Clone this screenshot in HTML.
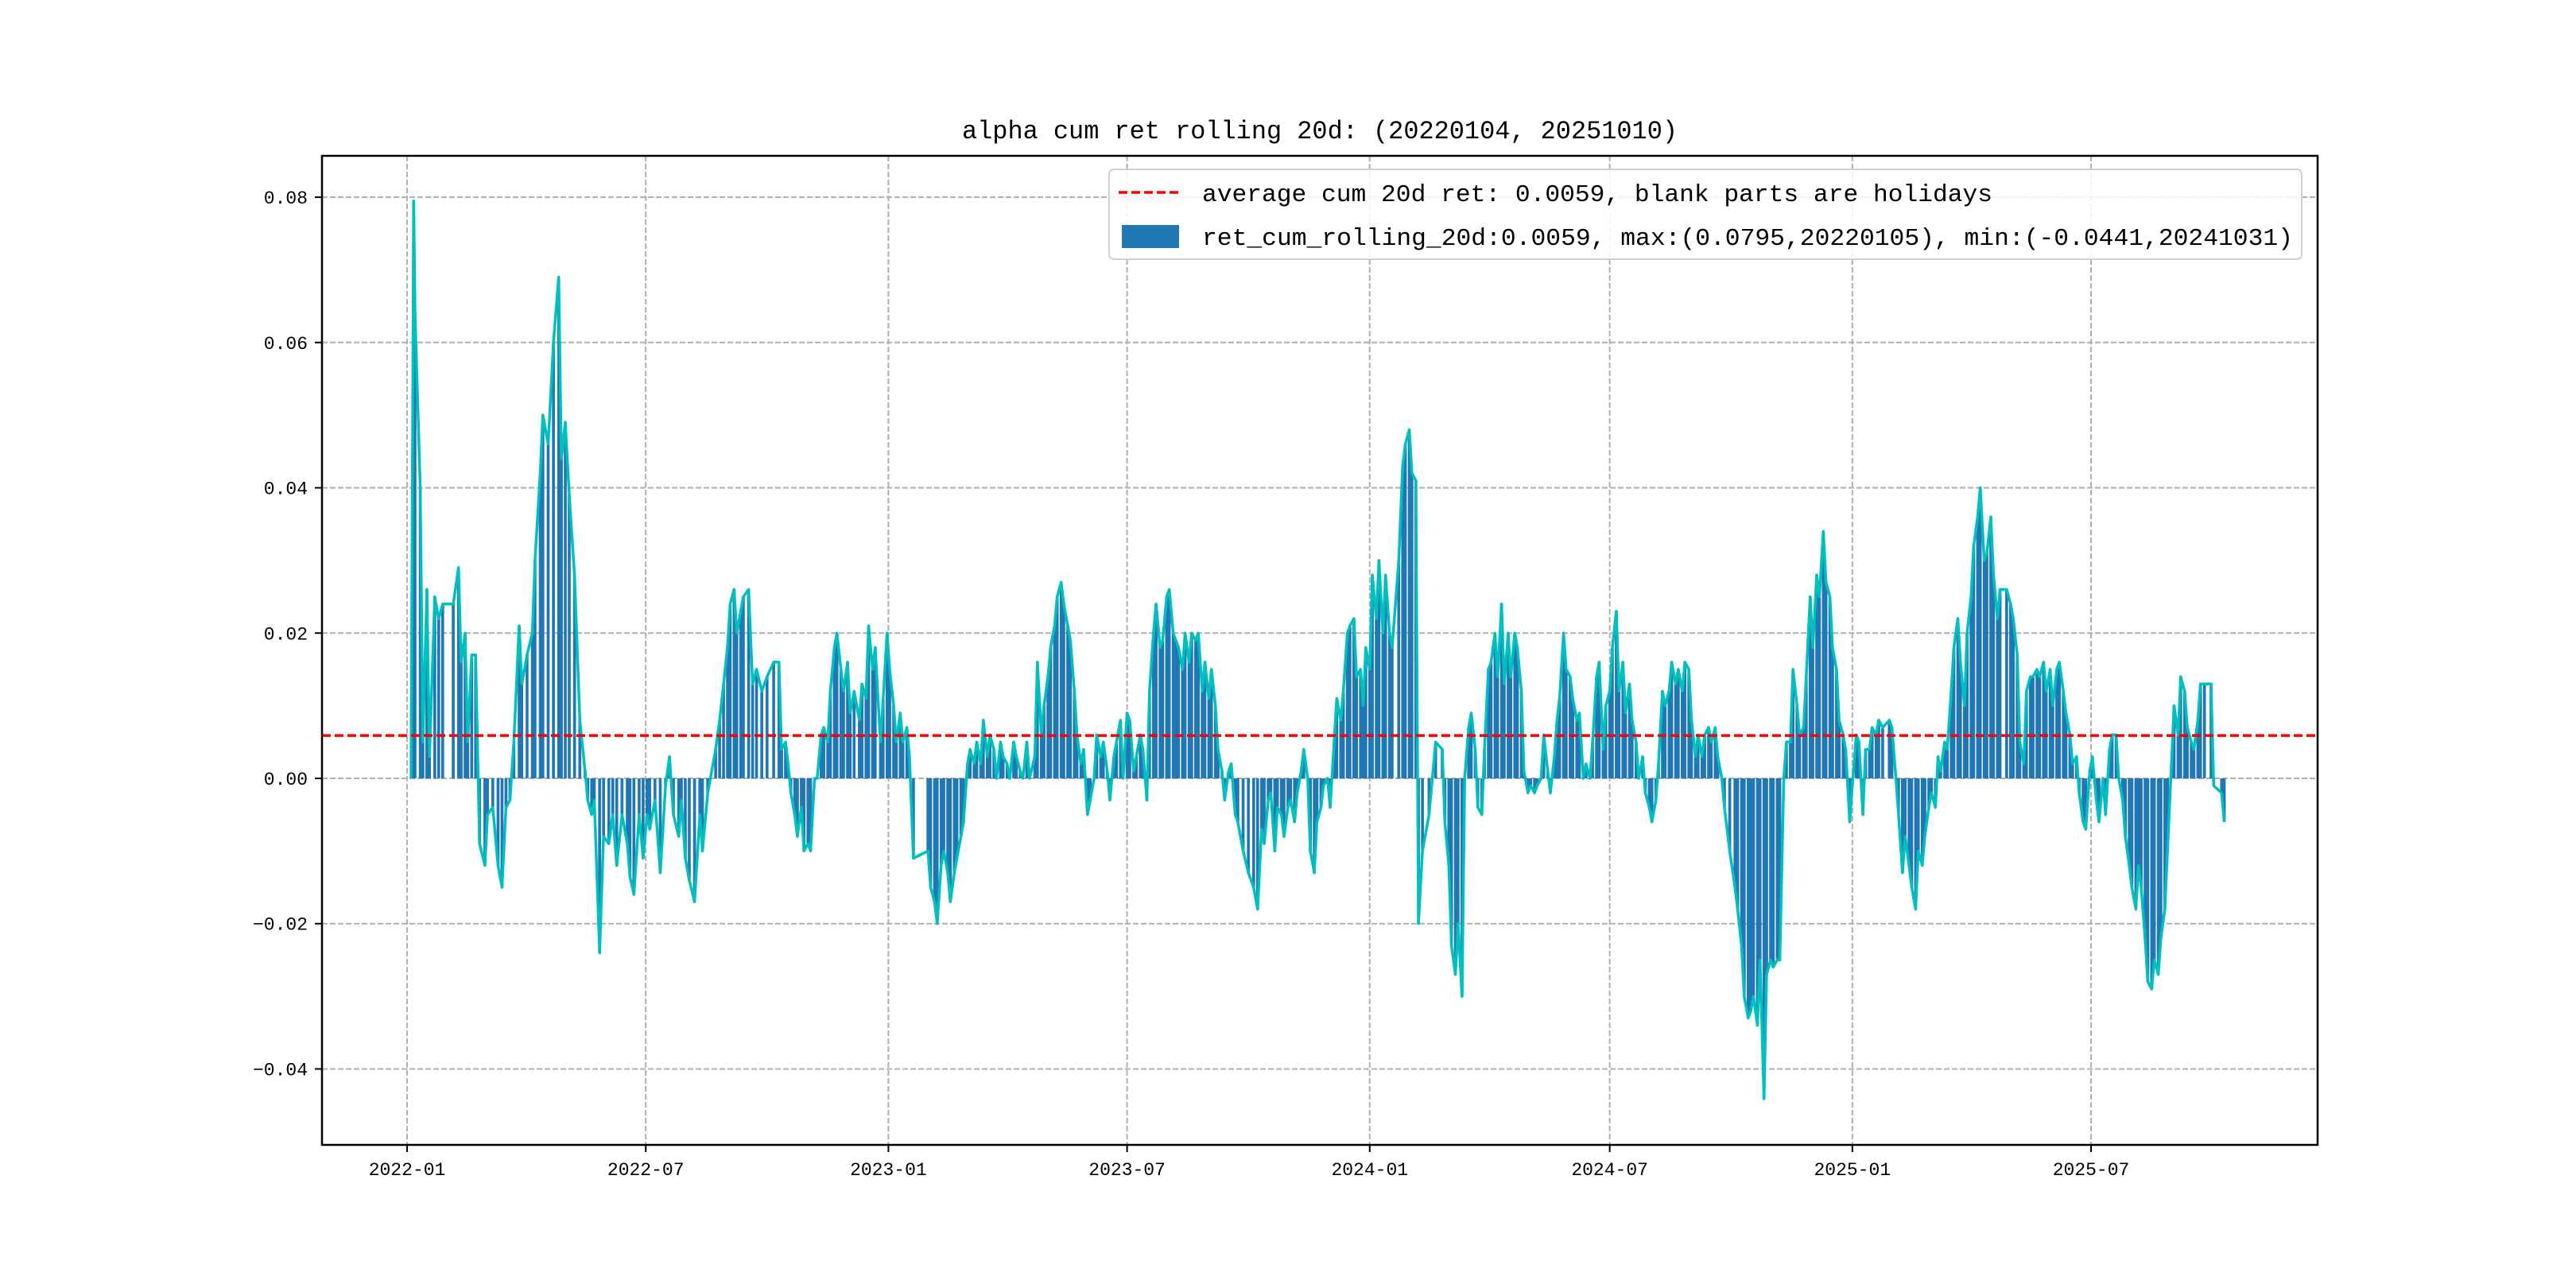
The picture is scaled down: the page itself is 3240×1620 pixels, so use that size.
<!DOCTYPE html>
<html><head><meta charset="utf-8"><style>
html,body{margin:0;padding:0;background:#fff;}
svg{display:block;}
text{font-family:"Liberation Mono","Noto Sans CJK SC",monospace;fill:#000;}
</style></head><body>
<svg id="chart" width="3240" height="1620" viewBox="0 0 3240 1620" xmlns="http://www.w3.org/2000/svg">
<rect width="3240" height="1620" fill="#fff"/>
<text x="1660" y="174" font-size="32" text-anchor="middle" textLength="900" lengthAdjust="spacingAndGlyphs">alpha cum ret rolling 20d: (20220104, 20251010)</text>
<g id="grid"></g>
<g id="bars"></g>
<g id="line"></g>
<g id="avg"></g>
<g id="axes"></g>
<g>
<rect x="1395" y="213" width="1500" height="113" rx="6" fill="#fff" fill-opacity="0.85" stroke="#d0d0d0" stroke-width="2"/>
<line x1="1407" y1="242" x2="1483" y2="242" stroke="#ff0000" stroke-width="3.5" stroke-dasharray="11,5"/>
<text x="1512" y="253" font-size="31" textLength="994" lengthAdjust="spacingAndGlyphs">average cum 20d ret: 0.0059, blank parts are holidays</text>
<rect x="1411" y="283" width="72" height="29" fill="#1f77b4"/>
<text x="1512" y="308" font-size="31" textLength="1372" lengthAdjust="spacingAndGlyphs">ret_cum_rolling_20d:0.0059, max:(0.0795,20220105), min:(-0.0441,20241031)</text>
</g>
</svg>
<script>
const dayOffsets = [3,5,6,10,12,15,17,21,24,27,35,39,41,44,46,49,52,55,59,61,65,69,72,75,78,81,85,87,91,95,97,101,103,107,111,115,117,120,123,127,131,135,137,140,142,146,149,153,156,159,163,167,169,172,176,179,182,184,188,192,196,199,202,206,208,211,214,218,222,224,228,230,234,237,240,243,245,248,250,253,255,259,262,265,269,273,278,282,284,287,289,291,294,296,299,301,304,306,309,311,314,316,319,321,324,326,329,331,334,336,339,343,345,348,350,353,355,359,361,364,366,369,371,374,376,379,381,384,395,397,400,402,405,407,410,412,415,417,420,422,425,427,430,432,435,437,440,442,445,447,450,452,455,457,460,462,465,467,470,472,476,478,481,483,486,488,491,493,496,498,501,503,506,508,511,513,516,518,521,523,526,528,531,533,536,538,541,543,546,548,551,553,556,558,561,563,566,568,571,573,576,578,581,583,585,588,590,593,595,598,600,603,605,608,610,613,615,618,620,623,625,628,630,634,638,642,645,648,650,653,655,658,660,663,665,668,670,673,675,678,680,683,685,688,690,693,695,698,700,703,705,708,710,713,715,718,720,723,725,727,730,732,735,737,740,742,745,747,752,755,757,760,762,765,767,770,775,780,785,787,790,792,795,797,800,802,805,807,810,812,815,817,820,822,825,827,830,832,835,837,840,842,845,847,850,852,855,857,860,862,865,867,870,872,874,877,879,882,884,887,889,892,894,897,899,902,904,907,909,912,914,917,919,922,924,927,929,932,934,937,939,942,944,947,949,952,954,957,959,962,964,967,969,972,974,977,979,982,984,987,989,992,994,997,999,1003,1007,1009,1012,1014,1017,1019,1021,1024,1026,1029,1031,1034,1036,1039,1041,1044,1046,1049,1051,1054,1056,1059,1061,1064,1066,1069,1071,1074,1076,1079,1081,1084,1086,1089,1091,1094,1096,1099,1101,1104,1106,1109,1111,1114,1116,1119,1124,1126,1129,1131,1134,1136,1139,1141,1144,1146,1149,1151,1154,1156,1159,1161,1163,1166,1168,1171,1173,1176,1178,1181,1183,1186,1188,1191,1193,1196,1198,1201,1203,1206,1208,1213,1216,1218,1221,1223,1226,1228,1231,1233,1236,1238,1241,1243,1246,1248,1251,1253,1256,1258,1261,1263,1266,1268,1271,1273,1276,1278,1281,1283,1286,1288,1291,1293,1296,1298,1301,1303,1306,1308,1311,1313,1315,1318,1320,1323,1325,1328,1330,1333,1335,1338,1340,1343,1345,1348,1350,1353,1355,1358,1360,1363,1368,1370,1376,1378];
const retValues = [0.0,0.0795,0.064,0.04,0.005,0.026,0.003,0.025,0.022,0.024,0.024,0.029,0.016,0.02,0.005,0.017,0.017,-0.009,-0.012,-0.005,-0.004,-0.012,-0.015,-0.004,-0.003,0.005,0.021,0.013,0.017,0.02,0.03,0.042,0.05,0.046,0.06,0.069,0.044,0.049,0.039,0.028,0.008,0.001,-0.003,-0.005,-0.003,-0.024,-0.008,-0.009,-0.005,-0.012,-0.005,-0.009,-0.0135,-0.016,-0.005,-0.011,-0.005,-0.007,-0.003,-0.013,-0.001,0.003,-0.005,-0.008,-0.003,-0.011,-0.014,-0.017,-0.005,-0.010,-0.002,0.0,0.004,0.008,0.013,0.018,0.024,0.026,0.02,0.023,0.025,0.026,0.013,0.015,0.012,0.014,0.016,0.016,0.004,0.005,0.002,-0.002,-0.005,-0.008,-0.004,-0.010,-0.009,-0.010,0.0,0.0,0.006,0.007,0.005,0.012,0.018,0.02,0.015,0.012,0.016,0.009,0.012,0.008,0.013,0.011,0.021,0.015,0.018,0.005,0.011,0.02,0.015,0.01,0.005,0.009,0.005,0.007,0.003,-0.011,-0.010,-0.015,-0.017,-0.020,-0.012,-0.010,-0.013,-0.017,-0.013,-0.011,-0.008,-0.006,0.002,0.004,0.002,0.005,0.002,0.008,0.003,0.006,0.004,0.0,0.005,0.003,0.002,0.0,0.005,0.003,0.001,0.0,0.005,0.0,0.003,0.016,0.006,0.01,0.014,0.018,0.021,0.025,0.027,0.024,0.021,0.019,0.012,0.006,0.002,0.004,-0.005,-0.003,0.0,0.006,0.003,0.005,0.001,-0.003,0.003,0.005,0.008,0.0,0.009,0.008,0.001,0.003,0.006,0.004,-0.003,0.012,0.02,0.024,0.018,0.019,0.025,0.026,0.02,0.019,0.018,0.015,0.02,0.016,0.02,0.019,0.020,0.012,0.016,0.011,0.015,0.010,0.004,0.001,-0.003,0.001,0.002,-0.005,-0.006,-0.010,-0.013,-0.015,-0.018,-0.007,-0.009,-0.003,-0.002,-0.010,-0.004,-0.005,-0.008,-0.004,-0.003,-0.006,-0.002,0.001,0.004,0.0,-0.01,-0.013,-0.006,-0.004,-0.001,0.0,-0.004,0.005,0.011,0.008,0.012,0.02,0.021,0.022,0.014,0.015,0.01,0.018,0.015,0.028,0.022,0.03,0.02,0.028,0.020,0.018,0.03,0.043,0.046,0.048,0.042,0.041,-0.02,-0.01,-0.005,0.005,0.004,-0.006,-0.012,-0.023,-0.027,-0.020,-0.030,0.0,0.007,0.009,0.004,-0.004,-0.005,0.004,0.015,0.016,0.02,0.014,0.024,0.013,0.02,0.014,0.02,0.018,0.012,0.001,-0.002,-0.001,-0.002,-0.001,0.0,0.006,0.001,-0.002,0.003,0.008,0.011,0.020,0.015,0.014,0.011,0.008,0.009,0.0,0.002,0.0,0.005,0.014,0.016,0.004,0.01,0.012,0.018,0.023,0.012,0.016,0.009,0.013,0.008,0.005,0.0,0.003,-0.002,-0.004,-0.006,-0.003,0.002,0.012,0.010,0.012,0.016,0.013,0.015,0.012,0.016,0.015,0.008,0.003,0.006,0.003,0.006,0.007,0.005,0.007,0.003,0.0,-0.004,-0.010,-0.015,-0.018,-0.023,-0.03,-0.033,-0.032,-0.030,-0.034,-0.025,-0.0441,-0.027,-0.025,-0.026,-0.025,-0.025,0.0,0.005,0.005,0.015,0.010,0.006,0.007,0.014,0.025,0.018,0.028,0.025,0.034,0.027,0.025,0.018,0.015,0.008,0.006,0.004,-0.006,-0.001,0.006,0.005,-0.005,0.004,0.004,0.007,0.006,0.008,0.007,0.008,0.007,0.0,-0.005,-0.013,-0.008,-0.012,-0.015,-0.018,-0.010,-0.012,-0.008,-0.004,-0.002,-0.004,0.003,0.001,0.005,0.004,0.012,0.018,0.022,0.016,0.010,0.02,0.025,0.032,0.036,0.040,0.030,0.031,0.036,0.028,0.022,0.026,0.026,0.024,0.022,0.017,0.005,0.002,0.012,0.014,0.014,0.015,0.014,0.016,0.012,0.015,0.010,0.015,0.016,0.012,0.009,0.006,0.002,0.003,-0.002,-0.006,-0.007,0.001,0.003,-0.003,-0.006,0.0,-0.005,0.004,0.006,0.006,0.0,-0.003,-0.008,-0.012,-0.015,-0.018,-0.012,-0.015,-0.022,-0.028,-0.029,-0.025,-0.027,-0.022,-0.018,-0.01,0.002,0.010,0.006,0.014,0.012,0.007,0.005,0.004,0.008,0.013,0.013,0.013,-0.001,-0.002,-0.006];
const avgValue = 0.0059;
const yTicks = [0.08,0.06,0.04,0.02,0.0,-0.02,-0.04];
const yTickLabels = ["0.08","0.06","0.04","0.02","0.00","\u22120.02","\u22120.04"];
const xTickDays = [0,181,365,546,730,912,1096,1277];
const xTickLabels = ["2022-01","2022-07","2023-01","2023-07","2024-01","2024-07","2025-01","2025-07"];

const NS = "http://www.w3.org/2000/svg";
const L = 405, R = 2915, T = 196, B = 1440;
const X0 = 512, PXDAY = 1.6586;
const Y0 = 979, PXUNIT = 9137;
function xs(d){ return X0 + d * PXDAY; }
function ys(v){ return Y0 - v * PXUNIT; }
function mk(tag, attrs, parent){ const e = document.createElementNS(NS, tag); for (const k in attrs) e.setAttribute(k, attrs[k]); parent.appendChild(e); return e; }

const grid = document.getElementById('grid');
const axes = document.getElementById('axes');
yTicks.forEach((v, i) => {
  const y = ys(v);
  const g = mk('line', {x1: L, x2: R, y1: y, y2: y, stroke: '#b0b0b0', 'stroke-width': 2, 'stroke-dasharray': '7,3'}, grid);
  
  
  const t = mk('line', {x1: L - 9, x2: L, y1: y, y2: y, stroke: '#000', 'stroke-width': 2}, axes);
  
  
  const lb = mk('text', {x: L - 18, y: y + 8, 'font-size': 23, 'text-anchor': 'end'}, axes);
  lb.textContent = yTickLabels[i];
  
  
});
xTickDays.forEach((d, i) => {
  const x = xs(d);
  const g = mk('line', {x1: x, x2: x, y1: T, y2: B, stroke: '#b0b0b0', 'stroke-width': 2, 'stroke-dasharray': '7,3'}, grid);
  
  
  const t = mk('line', {x1: x, x2: x, y1: B, y2: B + 9, stroke: '#000', 'stroke-width': 2}, axes);
  
  
  const lb = mk('text', {x: x, y: B + 38, 'font-size': 23, 'text-anchor': 'middle'}, axes);
  lb.textContent = xTickLabels[i];
  
  
});
const frame = mk('rect', {x: L, y: T, width: R - L, height: B - T, fill: 'none', stroke: '#000', 'stroke-width': 2.5}, axes);



const bars = document.getElementById('bars');
const bw = 2.2 * PXDAY;
dayOffsets.forEach((d, i) => {
  const v = retValues[i];
  const y = ys(v), y0 = ys(0);
  const r = mk('rect', {x: xs(d) - bw / 2, y: Math.min(y, y0), width: bw, height: Math.abs(y - y0), fill: '#1f77b4'}, bars);
  
  
});

const lineG = document.getElementById('line');
const pts = dayOffsets.map((d, i) => xs(d).toFixed(1) + ',' + ys(retValues[i]).toFixed(1)).join(' ');
const pl = mk('polyline', {points: pts, fill: 'none', stroke: '#00bfbf', 'stroke-width': 3.5, 'stroke-linejoin': 'round'}, lineG);



const avgG = document.getElementById('avg');
const al = mk('line', {x1: L, x2: R, y1: ys(avgValue), y2: ys(avgValue), stroke: '#ff0000', 'stroke-width': 3.5, 'stroke-dasharray': '11,5'}, avgG);


</script>
</body></html>
